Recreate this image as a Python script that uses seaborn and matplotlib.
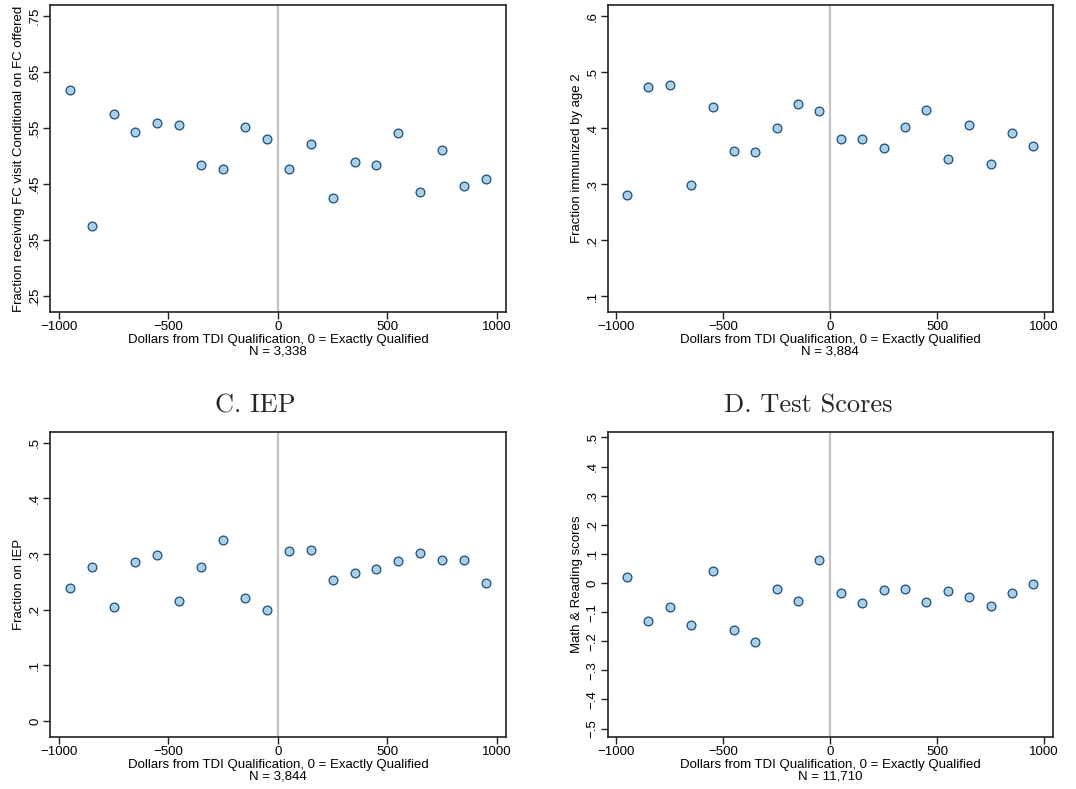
import numpy as np
import pandas as pd
import matplotlib
matplotlib.use("Agg")
import matplotlib.pyplot as plt
import seaborn as sns

# bin midpoints (dollars from TDI qualification)
bins = [-950, -850, -750, -650, -550, -450, -350, -250, -150, -50,
        50, 150, 250, 350, 450, 550, 650, 750, 850, 950]

fc_visit = [0.619, 0.375, 0.575, 0.543, 0.560, 0.556, 0.484, 0.477, 0.552, 0.531,
            0.477, 0.521, 0.425, 0.490, 0.485, 0.542, 0.436, 0.511, 0.446, 0.460]
immunized = [0.280, 0.474, 0.477, 0.298, 0.438, 0.359, 0.357, 0.401, 0.444, 0.431,
             0.380, 0.381, 0.365, 0.403, 0.432, 0.345, 0.405, 0.336, 0.392, 0.369]
iep = [0.240, 0.277, 0.205, 0.286, 0.298, 0.216, 0.277, 0.326, 0.222, 0.199,
       0.305, 0.308, 0.253, 0.266, 0.274, 0.288, 0.302, 0.289, 0.289, 0.249]
scores = [0.020, -0.131, -0.084, -0.145, 0.040, -0.160, -0.201, -0.020, -0.062, 0.079,
          -0.034, -0.070, -0.023, -0.021, -0.066, -0.027, -0.049, -0.078, -0.034, -0.005]

ylabels = ["Fraction receiving FC visit Conditional on FC offered",
           "Fraction immunized by age 2",
           "Fraction on IEP",
           "Math & Reading scores"]
titles = [None, None, "C. IEP", "D. Test Scores"]
n_obs = ["3,338", "3,884", "3,844", "11,710"]
yticks = [[0.25, 0.35, 0.45, 0.55, 0.65, 0.75],
          [0.1, 0.2, 0.3, 0.4, 0.5, 0.6],
          [0.0, 0.1, 0.2, 0.3, 0.4, 0.5],
          [-0.5, -0.4, -0.3, -0.2, -0.1, 0.0, 0.1, 0.2, 0.3, 0.4, 0.5]]
xticks = [-1000, -500, 0, 500, 1000]

sns.set_style("ticks")
plt.rcParams['font.family'] = ['Liberation Sans', 'DejaVu Sans']


def stata_fmt(v):
    """Stata-style number: no leading zero, unicode minus."""
    s = f"{abs(v):.2f}".rstrip('0').rstrip('.')
    if s.startswith('0.'):
        s = s[1:]
    if s == '':
        s = '0'
    return ('\u2212' + s) if v < 0 else s


fig = plt.figure(figsize=(10.76, 7.89), dpi=100)
positions = [
    [0.0465, 0.6046, 0.4235, 0.3891],
    [0.5648, 0.6046, 0.4135, 0.3891],
    [0.0465, 0.0663, 0.4235, 0.3866],
    [0.5648, 0.0663, 0.4135, 0.3866],
]
series = [fc_visit, immunized, iep, scores]
fs = 9.5

for i, vals in enumerate(series):
    ax = fig.add_axes(positions[i])
    df = pd.DataFrame({'x': bins, 'y': vals})
    ax.axvline(0, color='#c4c4c4', lw=1.6, zorder=1)
    sns.scatterplot(data=df, x='x', y='y', ax=ax, s=40,
                    color='#a8d0e8', edgecolor='#1e4d78', linewidth=0.9, zorder=3)

    ax.set_xlim(-1040, 1040)
    yt = yticks[i]
    step = yt[1] - yt[0]
    ax.set_ylim(yt[0] - 0.28 * step, yt[-1] + 0.2 * step)
    ax.set_yticks(yt)
    ax.set_yticklabels([stata_fmt(v) for v in yt], rotation=90, va='center')
    ax.set_xticks(xticks)
    ax.set_xticklabels([stata_fmt(v) for v in xticks])
    ax.tick_params(axis='both', labelsize=fs, length=5, width=1, color='#222222',
                   labelcolor='black', pad=1.5)

    ax.set_xlabel(f"Dollars from TDI Qualification, 0 = Exactly Qualified\nN = {n_obs[i]}",
                  fontsize=fs, labelpad=1, linespacing=0.95, color='black')
    ax.set_ylabel(ylabels[i], fontsize=fs, labelpad=3, color='black')
    for sp in ax.spines.values():
        sp.set_color('#222222')
        sp.set_linewidth(1.2)
    if titles[i]:
        ax.set_title(titles[i], fontsize=19, family='cmr10', pad=14, x=0.45)

fig.savefig("out.png", dpi=100)
